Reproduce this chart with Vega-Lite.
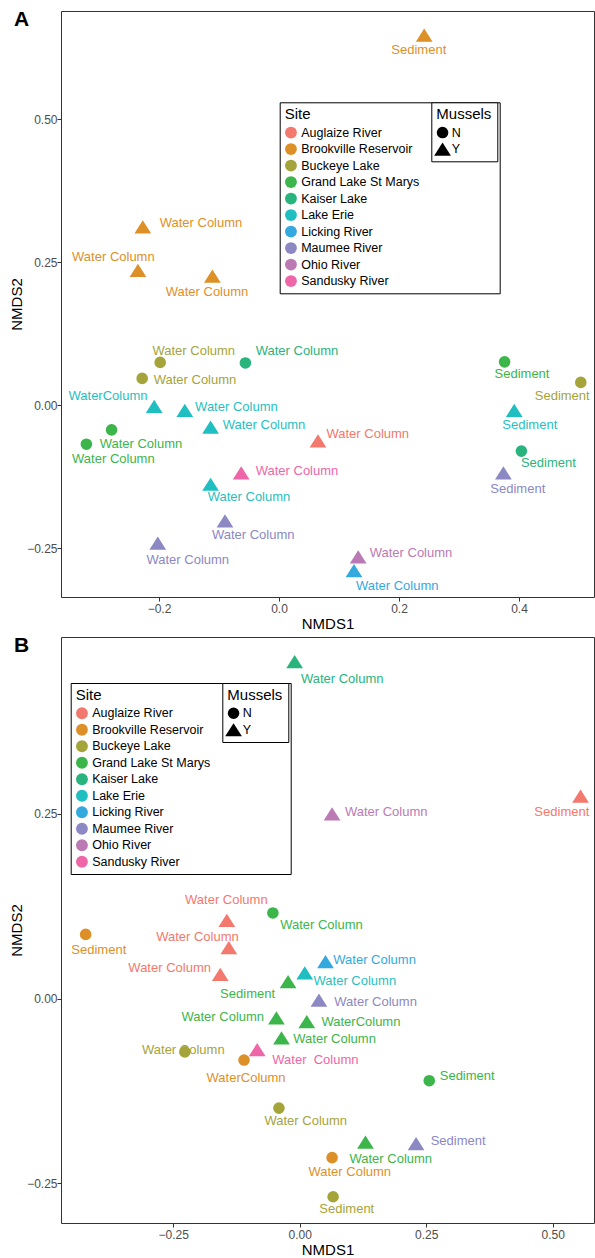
{
  "$schema": "https://vega.github.io/schema/vega-lite/v6.json",
  "padding": {"left": 9, "top": 8, "right": 0, "bottom": 0},
  "spacing": 2,
  "config": {
    "font": "Liberation Sans",
    "view": {"stroke": "#333333", "strokeWidth": 1},
    "axis": {"domain": false, "grid": false, "tickColor": "#333333", "tickSize": 4, "labelColor": "#4d4d4d", "labelFontSize": 12, "labelPadding": 2, "titleFontSize": 15, "titleFontWeight": "normal", "titleColor": "black", "titlePadding": 2},
    "axisY": {"labelPadding": 0},
    "legend": {"strokeColor": "black", "fillColor": "white", "padding": 5, "cornerRadius": 0, "titleFontSize": 15, "titleFontWeight": "normal", "titleColor": "black", "titleLimit": 400, "labelFontSize": 12.5, "labelColor": "black", "labelLimit": 300},
    "title": {"font": "Liberation Sans", "fontSize": 21, "fontWeight": "bold", "color": "black", "anchor": "start", "frame": "group", "offset": 0}
  },
  "datasets": {
    "A": [
      {"Site": "Brookville Reservoir", "Mussels": "Y", "Label": "Sediment", "NMDS1": 0.242, "NMDS2": 0.647, "lx": 0.233, "ly": 0.621},
      {"Site": "Brookville Reservoir", "Mussels": "Y", "Label": "Water Column", "NMDS1": -0.227, "NMDS2": 0.312, "lx": -0.130, "ly": 0.318},
      {"Site": "Brookville Reservoir", "Mussels": "Y", "Label": "Water Column", "NMDS1": -0.235, "NMDS2": 0.236, "lx": -0.276, "ly": 0.259},
      {"Site": "Brookville Reservoir", "Mussels": "Y", "Label": "Water Column", "NMDS1": -0.111, "NMDS2": 0.226, "lx": -0.120, "ly": 0.198},
      {"Site": "Buckeye Lake", "Mussels": "N", "Label": "Water Column", "NMDS1": -0.198, "NMDS2": 0.075, "lx": -0.142, "ly": 0.095},
      {"Site": "Kaiser Lake", "Mussels": "N", "Label": "Water Column", "NMDS1": -0.056, "NMDS2": 0.074, "lx": 0.030, "ly": 0.095},
      {"Site": "Buckeye Lake", "Mussels": "N", "Label": "Water Column", "NMDS1": -0.228, "NMDS2": 0.047, "lx": -0.140, "ly": 0.044},
      {"Site": "Lake Erie", "Mussels": "Y", "Label": "WaterColumn", "NMDS1": -0.208, "NMDS2": -0.002, "lx": -0.285, "ly": 0.016},
      {"Site": "Lake Erie", "Mussels": "Y", "Label": "Water Column", "NMDS1": -0.157, "NMDS2": -0.009, "lx": -0.071, "ly": -0.003},
      {"Site": "Grand Lake St Marys", "Mussels": "N", "Label": "Water Column", "NMDS1": -0.279, "NMDS2": -0.043, "lx": -0.230, "ly": -0.067},
      {"Site": "Grand Lake St Marys", "Mussels": "N", "Label": "Water Column", "NMDS1": -0.321, "NMDS2": -0.068, "lx": -0.276, "ly": -0.093},
      {"Site": "Lake Erie", "Mussels": "Y", "Label": "Water Column", "NMDS1": -0.114, "NMDS2": -0.038, "lx": -0.025, "ly": -0.034},
      {"Site": "Auglaize River", "Mussels": "Y", "Label": "Water Column", "NMDS1": 0.065, "NMDS2": -0.062, "lx": 0.148, "ly": -0.051},
      {"Site": "Sandusky River", "Mussels": "Y", "Label": "Water Column", "NMDS1": -0.063, "NMDS2": -0.118, "lx": 0.030, "ly": -0.115},
      {"Site": "Lake Erie", "Mussels": "Y", "Label": "Water Column", "NMDS1": -0.114, "NMDS2": -0.138, "lx": -0.050, "ly": -0.161},
      {"Site": "Maumee River", "Mussels": "Y", "Label": "Water Column", "NMDS1": -0.090, "NMDS2": -0.202, "lx": -0.043, "ly": -0.226},
      {"Site": "Maumee River", "Mussels": "Y", "Label": "Water Column", "NMDS1": -0.202, "NMDS2": -0.241, "lx": -0.152, "ly": -0.271},
      {"Site": "Ohio River", "Mussels": "Y", "Label": "Water Column", "NMDS1": 0.132, "NMDS2": -0.265, "lx": 0.220, "ly": -0.258},
      {"Site": "Licking River", "Mussels": "Y", "Label": "Water Column", "NMDS1": 0.125, "NMDS2": -0.289, "lx": 0.197, "ly": -0.316},
      {"Site": "Grand Lake St Marys", "Mussels": "N", "Label": "Sediment", "NMDS1": 0.376, "NMDS2": 0.076, "lx": 0.405, "ly": 0.054},
      {"Site": "Buckeye Lake", "Mussels": "N", "Label": "Sediment", "NMDS1": 0.503, "NMDS2": 0.040, "lx": 0.472, "ly": 0.017},
      {"Site": "Lake Erie", "Mussels": "Y", "Label": "Sediment", "NMDS1": 0.392, "NMDS2": -0.009, "lx": 0.418, "ly": -0.034},
      {"Site": "Kaiser Lake", "Mussels": "N", "Label": "Sediment", "NMDS1": 0.404, "NMDS2": -0.080, "lx": 0.449, "ly": -0.100},
      {"Site": "Maumee River", "Mussels": "Y", "Label": "Sediment", "NMDS1": 0.374, "NMDS2": -0.118, "lx": 0.398, "ly": -0.146}
    ],
    "B": [
      {"Site": "Kaiser Lake", "Mussels": "Y", "Label": "Water Column", "NMDS1": -0.010, "NMDS2": 0.456, "lx": 0.084, "ly": 0.433},
      {"Site": "Ohio River", "Mussels": "Y", "Label": "Water Column", "NMDS1": 0.064, "NMDS2": 0.250, "lx": 0.171, "ly": 0.252},
      {"Site": "Auglaize River", "Mussels": "Y", "Label": "Sediment", "NMDS1": 0.555, "NMDS2": 0.274, "lx": 0.518, "ly": 0.252},
      {"Site": "Brookville Reservoir", "Mussels": "N", "Label": "Sediment", "NMDS1": -0.423, "NMDS2": 0.087, "lx": -0.397, "ly": 0.066},
      {"Site": "Grand Lake St Marys", "Mussels": "N", "Label": "Water Column", "NMDS1": -0.053, "NMDS2": 0.116, "lx": 0.043, "ly": 0.100},
      {"Site": "Auglaize River", "Mussels": "Y", "Label": "Water Column", "NMDS1": -0.144, "NMDS2": 0.106, "lx": -0.145, "ly": 0.134},
      {"Site": "Auglaize River", "Mussels": "Y", "Label": "Water Column", "NMDS1": -0.140, "NMDS2": 0.069, "lx": -0.202, "ly": 0.084},
      {"Site": "Auglaize River", "Mussels": "Y", "Label": "Water Column", "NMDS1": -0.157, "NMDS2": 0.033, "lx": -0.257, "ly": 0.042},
      {"Site": "Grand Lake St Marys", "Mussels": "Y", "Label": "Sediment", "NMDS1": -0.023, "NMDS2": 0.023, "lx": -0.103, "ly": 0.006},
      {"Site": "Licking River", "Mussels": "Y", "Label": "Water Column", "NMDS1": 0.051, "NMDS2": 0.050, "lx": 0.148, "ly": 0.053},
      {"Site": "Lake Erie", "Mussels": "Y", "Label": "Water Column", "NMDS1": 0.010, "NMDS2": 0.035, "lx": 0.109, "ly": 0.024},
      {"Site": "Maumee River", "Mussels": "Y", "Label": "Water Column", "NMDS1": 0.038, "NMDS2": -0.002, "lx": 0.150, "ly": -0.005},
      {"Site": "Grand Lake St Marys", "Mussels": "Y", "Label": "Water Column", "NMDS1": -0.046, "NMDS2": -0.026, "lx": -0.152, "ly": -0.025},
      {"Site": "Grand Lake St Marys", "Mussels": "Y", "Label": "WaterColumn", "NMDS1": 0.014, "NMDS2": -0.031, "lx": 0.121, "ly": -0.031},
      {"Site": "Grand Lake St Marys", "Mussels": "Y", "Label": "Water Column", "NMDS1": -0.036, "NMDS2": -0.053, "lx": 0.069, "ly": -0.054},
      {"Site": "Sandusky River", "Mussels": "Y", "Label": "Water\u00a0 Column", "NMDS1": -0.084, "NMDS2": -0.069, "lx": 0.031, "ly": -0.083},
      {"Site": "Buckeye Lake", "Mussels": "N", "Label": "Water Column", "NMDS1": -0.227, "NMDS2": -0.072, "lx": -0.230, "ly": -0.070},
      {"Site": "Brookville Reservoir", "Mussels": "N", "Label": "WaterColumn", "NMDS1": -0.110, "NMDS2": -0.083, "lx": -0.106, "ly": -0.107},
      {"Site": "Buckeye Lake", "Mussels": "N", "Label": "Water Column", "NMDS1": -0.041, "NMDS2": -0.148, "lx": 0.012, "ly": -0.166},
      {"Site": "Grand Lake St Marys", "Mussels": "N", "Label": "Sediment", "NMDS1": 0.256, "NMDS2": -0.111, "lx": 0.331, "ly": -0.105},
      {"Site": "Grand Lake St Marys", "Mussels": "Y", "Label": "Water Column", "NMDS1": 0.130, "NMDS2": -0.194, "lx": 0.180, "ly": -0.217},
      {"Site": "Maumee River", "Mussels": "Y", "Label": "Sediment", "NMDS1": 0.230, "NMDS2": -0.196, "lx": 0.313, "ly": -0.192},
      {"Site": "Brookville Reservoir", "Mussels": "N", "Label": "Water Column", "NMDS1": 0.064, "NMDS2": -0.215, "lx": 0.099, "ly": -0.234},
      {"Site": "Buckeye Lake", "Mussels": "N", "Label": "Sediment", "NMDS1": 0.066, "NMDS2": -0.268, "lx": 0.093, "ly": -0.284}
    ]
  },
  "resolve": {"scale": {"color": "independent", "shape": "independent"}},
  "vconcat": [
    {
      "title": {"text": "A", "dx": -47, "dy": 23},
      "width": 533,
      "height": 586,
      "data": {"name": "A"},
      "layer": [
        {
          "mark": {"type": "text", "fontSize": 13, "align": "center", "baseline": "middle"},
          "encoding": {
            "x": {"field": "lx", "type": "quantitative", "title": "NMDS1", "scale": {"domain": [-0.3633, 0.525], "nice": false, "zero": false}, "axis": {"values": [-0.2, 0, 0.2, 0.4], "format": ".1f"}},
            "y": {"field": "ly", "type": "quantitative", "title": "NMDS2", "scale": {"domain": [-0.3351, 0.6893], "nice": false, "zero": false}, "axis": {"values": [-0.25, 0, 0.25, 0.5], "format": ".2f"}},
            "text": {"field": "Label", "type": "nominal"},
            "color": {"field": "Site", "type": "nominal", "scale": {"domain": ["Auglaize River", "Brookville Reservoir", "Buckeye Lake", "Grand Lake St Marys", "Kaiser Lake", "Lake Erie", "Licking River", "Maumee River", "Ohio River", "Sandusky River"], "range": ["#F3786D", "#DE9028", "#A4A43A", "#3CB54A", "#28B47C", "#1FBFC1", "#33A9DF", "#8C88C4", "#BB7AB4", "#EE66A8"]}}
          }
        },
        {
          "mark": {"type": "point", "filled": true, "opacity": 1, "size": 135},
          "encoding": {
            "x": {"field": "NMDS1", "type": "quantitative", "title": "NMDS1", "scale": {"domain": [-0.3633, 0.525], "nice": false, "zero": false}, "axis": {"values": [-0.2, 0, 0.2, 0.4], "format": ".1f"}},
            "y": {"field": "NMDS2", "type": "quantitative", "title": "NMDS2", "scale": {"domain": [-0.3351, 0.6893], "nice": false, "zero": false}, "axis": {"values": [-0.25, 0, 0.25, 0.5], "format": ".2f"}},
            "color": {"field": "Site", "type": "nominal", "title": "Site\u00a0\u00a0\u00a0\u00a0\u00a0\u00a0\u00a0\u00a0\u00a0\u00a0\u00a0\u00a0\u00a0\u00a0\u00a0\u00a0\u00a0\u00a0\u00a0\u00a0\u00a0\u00a0\u00a0\u00a0\u00a0\u00a0\u00a0\u00a0\u00a0\u00a0\u00a0\u00a0\u00a0\u00a0\u00a0\u00a0\u00a0\u00a0\u00a0\u00a0\u00a0\u00a0\u00a0\u00a0\u200b", "legend": {"orient": "none", "legendX": 218.7, "legendY": 91.3, "symbolType": "circle", "symbolSize": 140, "rowPadding": 3.5, "titlePadding": 4, "labelOffset": 4, "symbolStrokeWidth": 0}},
            "shape": {"field": "Mussels", "type": "nominal", "title": "Mussels", "scale": {"domain": ["N", "Y"], "range": ["circle", "M0,-1.14L1.44,1.14L-1.44,1.14Z"]}, "legend": {"orient": "none", "legendX": 370.3, "legendY": 91.3, "symbolFillColor": "black", "symbolStrokeColor": "black", "symbolStrokeWidth": 0, "symbolSize": 135, "rowPadding": 2.5, "titlePadding": 4, "labelOffset": 3, "labelFontSize": 12.5}}
          }
        }
      ]
    },
    {
      "title": {"text": "B", "dx": -47, "dy": 23},
      "width": 533,
      "height": 586,
      "data": {"name": "B"},
      "layer": [
        {
          "mark": {"type": "text", "fontSize": 13, "align": "center", "baseline": "middle"},
          "encoding": {
            "x": {"field": "lx", "type": "quantitative", "title": "NMDS1", "scale": {"domain": [-0.4717, 0.5816], "nice": false, "zero": false}, "axis": {"values": [-0.25, 0, 0.25, 0.5], "format": ".2f"}},
            "y": {"field": "ly", "type": "quantitative", "title": "NMDS2", "scale": {"domain": [-0.3035, 0.4894], "nice": false, "zero": false}, "axis": {"values": [-0.25, 0, 0.25], "format": ".2f"}},
            "text": {"field": "Label", "type": "nominal"},
            "color": {"field": "Site", "type": "nominal", "scale": {"domain": ["Auglaize River", "Brookville Reservoir", "Buckeye Lake", "Grand Lake St Marys", "Kaiser Lake", "Lake Erie", "Licking River", "Maumee River", "Ohio River", "Sandusky River"], "range": ["#F3786D", "#DE9028", "#A4A43A", "#3CB54A", "#28B47C", "#1FBFC1", "#33A9DF", "#8C88C4", "#BB7AB4", "#EE66A8"]}}
          }
        },
        {
          "mark": {"type": "point", "filled": true, "opacity": 1, "size": 135},
          "encoding": {
            "x": {"field": "NMDS1", "type": "quantitative", "title": "NMDS1", "scale": {"domain": [-0.4717, 0.5816], "nice": false, "zero": false}, "axis": {"values": [-0.25, 0, 0.25, 0.5], "format": ".2f"}},
            "y": {"field": "NMDS2", "type": "quantitative", "title": "NMDS2", "scale": {"domain": [-0.3035, 0.4894], "nice": false, "zero": false}, "axis": {"values": [-0.25, 0, 0.25], "format": ".2f"}},
            "color": {"field": "Site", "type": "nominal", "title": "Site\u00a0\u00a0\u00a0\u00a0\u00a0\u00a0\u00a0\u00a0\u00a0\u00a0\u00a0\u00a0\u00a0\u00a0\u00a0\u00a0\u00a0\u00a0\u00a0\u00a0\u00a0\u00a0\u00a0\u00a0\u00a0\u00a0\u00a0\u00a0\u00a0\u00a0\u00a0\u00a0\u00a0\u00a0\u00a0\u00a0\u00a0\u00a0\u00a0\u00a0\u00a0\u00a0\u00a0\u00a0\u200b", "legend": {"orient": "none", "legendX": 9.7, "legendY": 46, "symbolType": "circle", "symbolSize": 140, "rowPadding": 3.5, "titlePadding": 4, "labelOffset": 4, "symbolStrokeWidth": 0}},
            "shape": {"field": "Mussels", "type": "nominal", "title": "Mussels", "scale": {"domain": ["N", "Y"], "range": ["circle", "M0,-1.14L1.44,1.14L-1.44,1.14Z"]}, "legend": {"orient": "none", "legendX": 161.3, "legendY": 46, "symbolFillColor": "black", "symbolStrokeColor": "black", "symbolStrokeWidth": 0, "symbolSize": 135, "rowPadding": 2.5, "titlePadding": 4, "labelOffset": 3, "labelFontSize": 12.5}}
          }
        }
      ]
    }
  ]
}
